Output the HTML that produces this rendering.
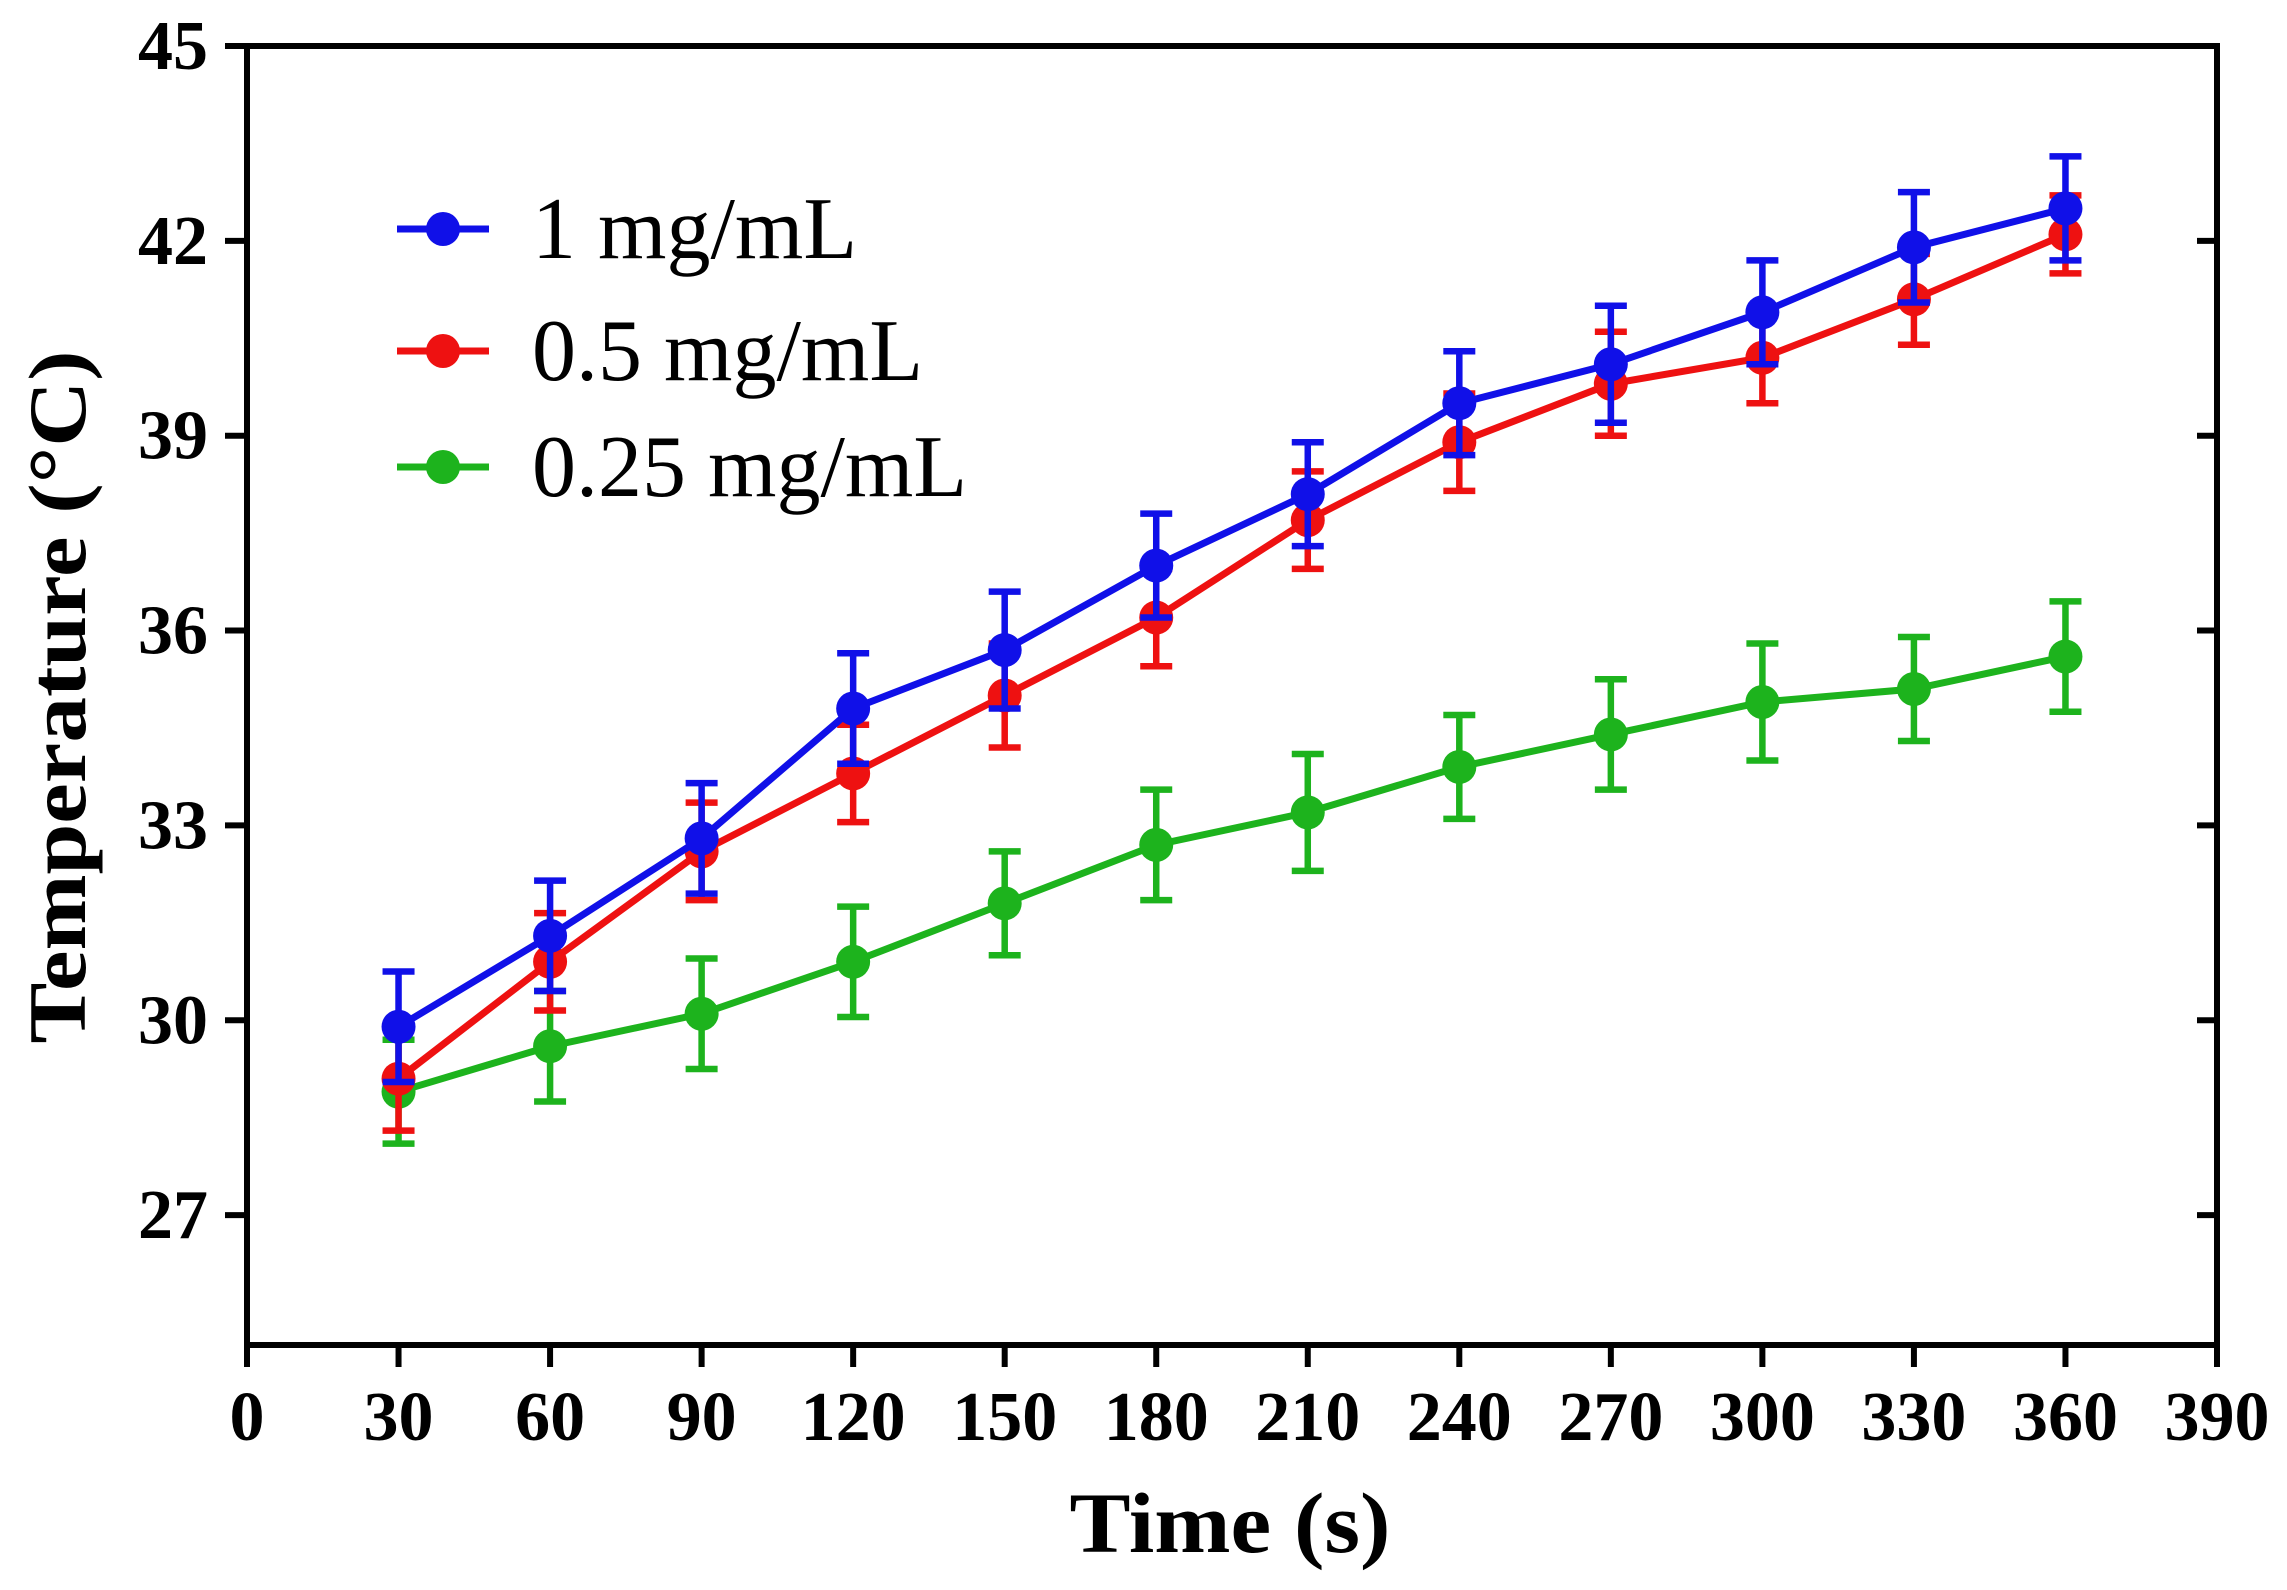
<!DOCTYPE html>
<html><head><meta charset="utf-8"><style>html,body{margin:0;padding:0;background:#fff}svg{display:block}</style></head>
<body>
<svg id="chart" width="2287" height="1590" xmlns="http://www.w3.org/2000/svg" font-family="Liberation Serif, serif">
<g id="axes"></g><g id="series"></g><g id="legend"></g>
</svg>
<script>
const times=[30,60,90,120,150,180,210,240,270,300,330,360];
const blueVals=[29.9,31.3,32.8,34.8,35.7,37.0,38.1,39.5,40.1,40.9,41.9,42.5];
const blueErr=[0.85,0.85,0.85,0.85,0.9,0.8,0.8,0.8,0.9,0.8,0.85,0.8];
const redVals=[29.1,30.9,32.6,33.8,35.0,36.2,37.7,38.9,39.8,40.2,41.1,42.1];
const redErr=[0.8,0.75,0.75,0.75,0.8,0.75,0.75,0.75,0.8,0.7,0.7,0.6];
const greenVals=[28.9,29.6,30.1,30.9,31.8,32.7,33.2,33.9,34.4,34.9,35.1,35.6];
const greenErr=[0.8,0.85,0.85,0.85,0.8,0.85,0.9,0.8,0.85,0.9,0.8,0.85];
const xTicks=[0,30,60,90,120,150,180,210,240,270,300,330,360,390];
const yTicks=[27,30,33,36,39,42,45];
const labels=["1 mg/mL","0.5 mg/mL","0.25 mg/mL"];
const NS="http://www.w3.org/2000/svg";
const L=247,R=2217,T=46,B=1345,xMin=0,xMax=390,yMin=25,yMax=45;
const X=v=>L+(v-xMin)/(xMax-xMin)*(R-L);
const Y=v=>B-(v-yMin)/(yMax-yMin)*(B-T);
function mk(tag,at,parent){const e=document.createElementNS(NS,tag);for(const k in at)e.setAttribute(k,at[k]);parent.appendChild(e);return e;}
const axes=document.getElementById('axes');
let f=mk('rect',{x:L,y:T,width:R-L,height:B-T,fill:'none',stroke:'#000','stroke-width':6},axes);


xTicks.forEach(v=>{
 let t=mk('line',{x1:X(v),x2:X(v),y1:B,y2:B+22,stroke:'#000','stroke-width':6},axes);
 
 
 let tx=mk('text',{x:X(v),y:1440,'text-anchor':'middle','font-size':70,'font-weight':'bold'},axes);
 tx.textContent=v;
 
 
});
yTicks.forEach(v=>{
 let t=mk('line',{x1:L-22,x2:L,y1:Y(v),y2:Y(v),stroke:'#000','stroke-width':6},axes);
 
 
 let t2=mk('line',{x1:R-20,x2:R,y1:Y(v),y2:Y(v),stroke:'#000','stroke-width':6},axes);
 
 
 let tx=mk('text',{x:208,y:Y(v)+23,'text-anchor':'end','font-size':70,'font-weight':'bold'},axes);
 tx.textContent=v;
 
 
});
let xt=mk('text',{x:1230,y:1552,'text-anchor':'middle','font-size':86,'font-weight':'bold',textLength:321,lengthAdjust:'spacingAndGlyphs'},axes);
xt.textContent='Time (s)';


let yt=mk('text',{x:0,y:0,'text-anchor':'middle','font-size':82,'font-weight':'bold',textLength:693,lengthAdjust:'spacingAndGlyphs',transform:'translate(85,697) rotate(-90)'},axes);
yt.textContent='Temperature (°C)';


const sg=document.getElementById('series');
function drawSeries(vals,errs,color,name){
 const g=mk('g',{},sg);
 
 
 vals.forEach((v,i)=>{
  const x=X(times[i]),y1=Y(v+errs[i]),y2=Y(v-errs[i]);
  let e=mk('path',{d:`M${x},${y1}V${y2}M${x-16},${y1}H${x+16}M${x-16},${y2}H${x+16}`,stroke:color,'stroke-width':6.5,fill:'none'},g);
  
  
 });
 let p=mk('polyline',{points:vals.map((v,i)=>X(times[i])+','+Y(v)).join(' '),fill:'none',stroke:color,'stroke-width':7},g);
 
 
 vals.forEach((v,i)=>{
  let c=mk('circle',{cx:X(times[i]),cy:Y(v),r:17,fill:color},g);
  
  
 });
}
drawSeries(greenVals,greenErr,'#1db31d','series-0-25');
drawSeries(redVals,redErr,'#ee1111','series-0-5');
drawSeries(blueVals,blueErr,'#1010e8','series-1');
const lg=document.getElementById('legend');
const cols=['#1010e8','#ee1111','#1db31d'];
const ly=[229,351,467];
labels.forEach((lb,i)=>{
 const g=mk('g',{},lg);
 
 
 mk('line',{x1:397,x2:489,y1:ly[i],y2:ly[i],stroke:cols[i],'stroke-width':7},g);
 mk('circle',{cx:443,cy:ly[i],r:17,fill:cols[i]},g);
 let t=mk('text',{x:532,y:ly[i]+29,'font-size':88},g);
 t.textContent=lb;
});
</script>
</body></html>
